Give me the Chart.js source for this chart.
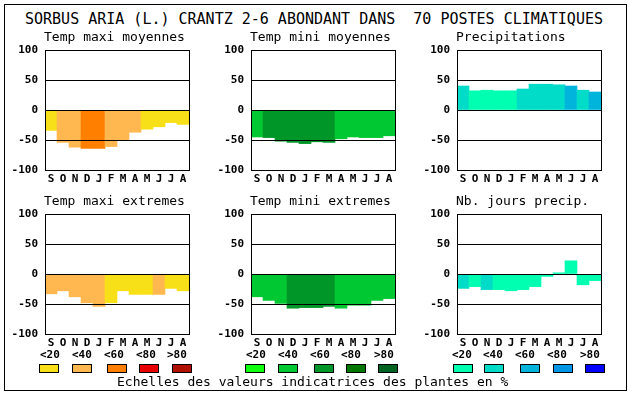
<!DOCTYPE html>
<html>
<head>
<meta charset="utf-8">
<script src="https://cdn.jsdelivr.net/npm/chart.js@4/dist/chart.umd.min.js"></script>
<style>
  html, body { margin: 0; padding: 0; background: #fff; }
  #wrap { position: relative; width: 630px; height: 394px; overflow: hidden; background: #fff; }
  .frame { position: absolute; left: 4px; top: 4px; width: 621px; height: 385px; border: 1px solid #000; box-sizing: content-box; }
  .txt { position: absolute; white-space: pre; color: #000; font-family: "DejaVu Sans Mono", monospace; }
  .main { font-size: 15px; line-height: 18px; }
  .ptitle { font-size: 13px; line-height: 15px; }
  .leglab { font-size: 11px; line-height: 13px; font-weight: bold; }
  .box { position: absolute; width: 18px; height: 7px; border: 1px solid #000; }
  canvas { position: absolute; }
</style>
</head>
<body>
<div id="wrap">
  <div class="frame"></div>
  <div id="mainTitle" class="txt main" style="left:25px; top:10px;"></div>
  <canvas id="c1" width="194" height="150" style="left:0px; top:40px;"></canvas>
  <canvas id="c2" width="194" height="150" style="left:206px; top:40px;"></canvas>
  <canvas id="c3" width="194" height="150" style="left:412px; top:40px;"></canvas>
  <canvas id="c4" width="194" height="150" style="left:0px; top:204px;"></canvas>
  <canvas id="c5" width="194" height="150" style="left:206px; top:204px;"></canvas>
  <canvas id="c6" width="194" height="150" style="left:412px; top:204px;"></canvas>
</div>
<script>
// ---- data ----
const months = ["S","O","N","D","J","F","M","A","M","J","J","A"];
const yTicks = [100, 50, 0, -50, -100];
const classLabels = ["<20","<40","<60","<80",">80"];

const mainTitle = "SORBUS ARIA (L.) CRANTZ 2-6 ABONDANT DANS  70 POSTES CLIMATIQUES";
const panelTitles = ["Temp maxi moyennes","Temp mini moyennes","Precipitations",
                     "Temp maxi extremes","Temp mini extremes","Nb. jours precip."];
const footer = "Echelles des valeurs indicatrices des plantes en %";

const tempMaxMoy   = [-34,-54,-62,-64,-64,-61,-50,-37,-32,-28,-21,-24];
const tempMaxMoyCl = [0,1,1,2,2,1,1,1,0,0,0,0];
const tempMinMoy   = [-45,-46,-52,-54,-56,-53,-54,-48,-45,-46,-46,-43];
const tempMinMoyCl = [1,2,2,2,2,2,2,1,1,1,1,1];
const precip       = [40,32,33,32,32,35,43,43,42,40,33,30];
const precipCl     = [1,0,0,0,0,1,1,1,1,2,1,2];
const tempMaxExt   = [-33,-28,-38,-48,-54,-48,-28,-34,-34,-34,-24,-28];
const tempMaxExtCl = [1,1,1,1,1,0,0,0,0,1,0,0];
const tempMinExt   = [-38,-44,-49,-57,-56,-56,-54,-57,-52,-52,-44,-41];
const tempMinExtCl = [1,1,1,2,2,2,2,1,1,1,1,1];
const nbJours      = [-24,-21,-26,-26,-28,-26,-21,-4,2,22,-18,-11];
const nbJoursCl    = [1,0,1,0,0,0,0,0,0,0,0,0];

const warmPalette  = ["#f8e018","#ffb850","#ff8000","#e80000","#b01000"];
const greenPalette = ["#10ff10","#00c832","#009628","#007800","#006420"];
const waterPalette = ["#00ffb0","#00dcc8","#00b4dc","#0096e6","#0000ff"];

// ---- layout (not data) ----
const wrap = document.getElementById("wrap");
document.getElementById("mainTitle").textContent = mainTitle;
const plotLefts = [45, 251, 457];
const titleTops = [29, 193];
panelTitles.forEach((t, i) => {
  const d = document.createElement("div");
  d.className = "txt ptitle";
  d.textContent = t;
  d.style.left = (plotLefts[i % 3] - 1) + "px";
  d.style.top = titleTops[Math.floor(i / 3)] + "px";
  wrap.appendChild(d);
});

// legend
const legendGroups = [
  { pal: warmPalette,  labX: [40,72,104,136,167],  boxX: [39,72,107,139,172] },
  { pal: greenPalette, labX: [246,278,310,341,374], boxX: [245,278,314,346,378] },
  { pal: waterPalette, labX: [452,483,515,547,580], boxX: [453,484,520,553,585] }
];
legendGroups.forEach(g => {
  classLabels.forEach((lab, k) => {
    const l = document.createElement("div");
    l.className = "txt leglab";
    l.textContent = lab;
    l.style.left = g.labX[k] + "px";
    l.style.top = "348px";
    wrap.appendChild(l);
    const b = document.createElement("div");
    b.className = "box";
    b.style.left = g.boxX[k] + "px";
    b.style.top = "364px";
    b.style.background = g.pal[k];
    wrap.appendChild(b);
  });
});
const f = document.createElement("div");
f.className = "txt ptitle";
f.textContent = footer;
f.style.left = "117px";
f.style.top = "374px";
wrap.appendChild(f);

// ---- charts ----
const framePlugin = {
  id: "frame",
  afterDraw(chart) {
    const a = chart.chartArea, ctx = chart.ctx;
    ctx.save();
    ctx.strokeStyle = "#000";
    ctx.lineWidth = 1;
    ctx.strokeRect(Math.round(a.left) + 0.5, Math.round(a.top) + 0.5,
                   Math.round(a.right - a.left), Math.round(a.bottom - a.top));
    ctx.restore();
  }
};

const tickFont = { family: "'DejaVu Sans Mono', monospace", size: 11, weight: "bold" };

function makeChart(id, values, classes, palette) {
  new Chart(document.getElementById(id), {
    type: "bar",
    data: {
      labels: months,
      datasets: [{
        data: values,
        backgroundColor: classes.map(c => palette[c]),
        borderWidth: 0,
        categoryPercentage: 1.0,
        barPercentage: 1.0
      }]
    },
    options: {
      responsive: false,
      animation: false,
      devicePixelRatio: 1,
      layout: { padding: { left: 0, right: 5, top: 10, bottom: 0 } },
      plugins: { legend: { display: false }, tooltip: { enabled: false }, title: { display: false } },
      scales: {
        x: {
          grid: { display: false, drawTicks: false },
          border: { display: false },
          ticks: { color: "#000", font: tickFont, padding: 3, maxRotation: 0, autoSkip: false },
          afterFit(s) { s.height = 20; s.paddingLeft = 0; s.paddingRight = 0; }
        },
        y: {
          min: -100, max: 100,
          afterBuildTicks(s) { s.ticks = yTicks.map(v => ({ value: v })); },
          grid: { color: "#000", lineWidth: 1, drawTicks: false, z: 1 },
          border: { display: false },
          ticks: { color: "#000", font: tickFont, padding: 7 },
          afterFit(s) { s.width = 45; s.paddingTop = 0; s.paddingBottom = 0; }
        }
      }
    },
    plugins: [framePlugin]
  });
}

makeChart("c1", tempMaxMoy, tempMaxMoyCl, warmPalette);
makeChart("c2", tempMinMoy, tempMinMoyCl, greenPalette);
makeChart("c3", precip, precipCl, waterPalette);
makeChart("c4", tempMaxExt, tempMaxExtCl, warmPalette);
makeChart("c5", tempMinExt, tempMinExtCl, greenPalette);
makeChart("c6", nbJours, nbJoursCl, waterPalette);
</script>
</body>
</html>
